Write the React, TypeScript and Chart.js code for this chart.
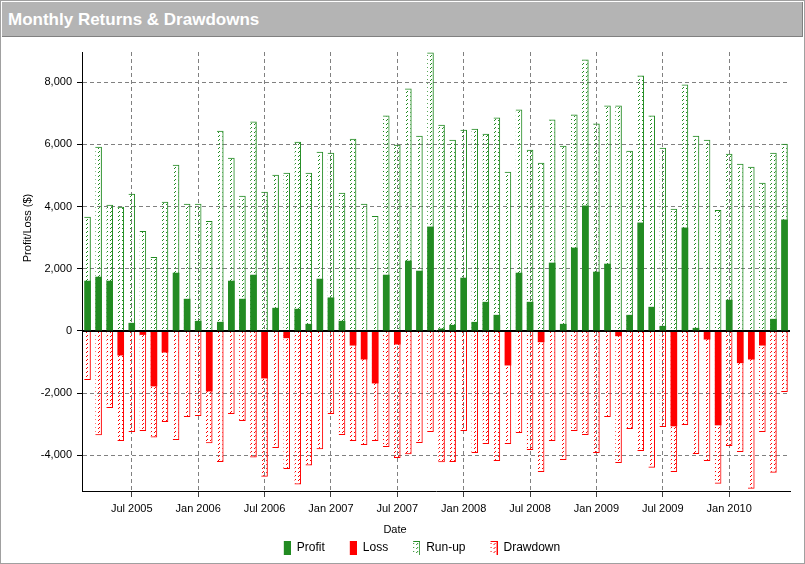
import React, { useEffect, useRef } from 'react';
import { Chart, registerables } from 'chart.js';

Chart.register(...registerables);

const categories: string[] = [
  'Mar 2005', 'Apr 2005', 'May 2005', 'Jun 2005', 'Jul 2005', 'Aug 2005', 'Sep 2005', 'Oct 2005', 'Nov 2005', 'Dec 2005',
  'Jan 2006', 'Feb 2006', 'Mar 2006', 'Apr 2006', 'May 2006', 'Jun 2006', 'Jul 2006', 'Aug 2006', 'Sep 2006', 'Oct 2006', 'Nov 2006', 'Dec 2006',
  'Jan 2007', 'Feb 2007', 'Mar 2007', 'Apr 2007', 'May 2007', 'Jun 2007', 'Jul 2007', 'Aug 2007', 'Sep 2007', 'Oct 2007', 'Nov 2007', 'Dec 2007',
  'Jan 2008', 'Feb 2008', 'Mar 2008', 'Apr 2008', 'May 2008', 'Jun 2008', 'Jul 2008', 'Aug 2008', 'Sep 2008', 'Oct 2008', 'Nov 2008', 'Dec 2008',
  'Jan 2009', 'Feb 2009', 'Mar 2009', 'Apr 2009', 'May 2009', 'Jun 2009', 'Jul 2009', 'Aug 2009', 'Sep 2009', 'Oct 2009', 'Nov 2009', 'Dec 2009',
  'Jan 2010', 'Feb 2010', 'Mar 2010', 'Apr 2010', 'May 2010', 'Jun 2010',
];

const tickLabels: string[] = [
  'Jul 2005', 'Jan 2006', 'Jul 2006', 'Jan 2007', 'Jul 2007',
  'Jan 2008', 'Jul 2008', 'Jan 2009', 'Jul 2009', 'Jan 2010',
];

const yTickValues: number[] = [-4000, -2000, 0, 2000, 4000, 6000, 8000];

const profitLoss: number[] = [
  1613, 1742, 1613, -791, 258, -128, -1786, -695, 1871, 1032,
  323, -1947, 290, 1613, 1032, 1806, -1529, 742, -235, 710, 226, 1677,
  1075, 323, -471, -920, -1690, 1806, -438, 2258, 1935, 3355, 75, 194,
  1710, 290, 935, 516, -1112, 1871, 935, -364, 2194, 226, 2677, 4032,
  1903, 2161, -171, 516, 3484, 774, 161, -3070, 3323, 97, -278, -3037,
  1000, -1037, -920, -471, 387, 3581,
];

const runUp: number[] = [
  3667, 5925, 4054, 3989, 4409, 3215, 2376, 4150, 5344, 4086,
  4086, 3538, 6441, 5570, 4344, 6731, 4473, 5022, 5086, 6086, 5086, 5763,
  5731, 4441, 6183, 4086, 3699, 6925, 5989, 7796, 6280, 8957, 6634, 6151,
  6473, 6505, 6344, 6860, 5118, 7118, 5828, 5409, 6796, 5957, 6957, 8731,
  6667, 7247, 7247, 5796, 8215, 6925, 5892, 3925, 7925, 6280, 6151, 3892,
  5699, 5376, 5280, 4763, 5731, 6022,
];

const drawdown: number[] = [
  -1583, -3358, -2481, -3540, -3251, -3219, -3433, -2930, -3508, -2770,
  -2738, -3615, -4214, -2674, -2898, -4075, -4695, -3765, -4439, -4941, -4332, -3807,
  -2674, -3348, -3540, -3668, -3540, -3733, -4086, -3968, -3604, -3251, -4225, -4214,
  -3219, -3925, -3636, -4182, -3636, -3283, -3829, -4535, -3540, -4150, -3219, -3348,
  -3925, -2770, -4246, -3155, -3861, -4406, -3091, -4535, -3027, -3957, -4182, -4920,
  -3701, -3893, -5080, -3251, -4567, -1968,
];

const legendNames = ['Profit', 'Loss', 'Run-up', 'Drawdown'];

const GREEN = '#228B22';
const RED = '#FF0000';
const FONT = '"Liberation Sans", Arial, sans-serif';
const GRID = '#808080';

function makeHatch(color: string): CanvasPattern {
  const c = document.createElement('canvas');
  c.width = 4;
  c.height = 4;
  const g = c.getContext('2d')!;
  g.fillStyle = color;
  g.fillRect(0, 3, 1, 1);
  g.fillRect(1, 2, 1, 1);
  return g.createPattern(c, 'repeat')!;
}

function makeIcon(color: string, hatch: CanvasPattern | null): HTMLCanvasElement {
  const c = document.createElement('canvas');
  c.width = 20;
  c.height = 14;
  const g = c.getContext('2d')!;
  const x0 = 13;
  const w = 7;
  if (!hatch) {
    g.fillStyle = color;
    g.fillRect(x0, 0, w, 14);
  } else {
    g.fillStyle = hatch;
    g.fillRect(x0, 1, w - 1, 13);
    g.fillStyle = color;
    g.fillRect(x0, 0, w, 1);
    g.fillRect(x0 + w - 1, 0, 1, 14);
  }
  return c;
}

const fmt = (v: number) => Math.round(v).toLocaleString('en-US');

export default function App() {
  const ref = useRef<HTMLCanvasElement | null>(null);

  useEffect(() => {
    document.body.style.margin = '0';
    const canvas = ref.current;
    if (!canvas) return;
    const greenHatch = makeHatch(GREEN);
    const redHatch = makeHatch(RED);
    const icons = [
      makeIcon(GREEN, null),
      makeIcon(RED, null),
      makeIcon(GREEN, greenHatch),
      makeIcon(RED, redHatch),
    ];
    const tickSet = new Set(tickLabels);

    const overlay = {
      id: 'overlay',
      afterDatasetsDraw(chart: any) {
        const { ctx, chartArea } = chart;
        const y0 = Math.round(chart.scales.y.getPixelForValue(0)) + 0.5;
        ctx.save();
        ctx.strokeStyle = '#000';
        ctx.lineWidth = 1;
        ctx.beginPath();
        ctx.moveTo(chartArea.left, y0);
        ctx.lineTo(chartArea.right, y0);
        ctx.stroke();
        ctx.restore();
      },
      afterDraw(chart: any) {
        const { ctx } = chart;
        ctx.save();
        ctx.font = `11px ${FONT}`;
        ctx.fillStyle = '#000';
        ctx.textAlign = 'center';
        ctx.textBaseline = 'middle';
        ctx.fillText('Date', 393, 493);
        ctx.translate(26, 191);
        ctx.rotate(-Math.PI / 2);
        ctx.fillText('Profit/Loss ($)', 0, 0);
        ctx.restore();
      },
    };

    const common = { grouped: false, barPercentage: 0.6, categoryPercentage: 1 };

    const chart = new Chart(canvas, {
      type: 'bar',
      data: {
        labels: categories,
        datasets: [
          { ...common, label: legendNames[0], data: profitLoss.map((v) => (v > 0 ? v : null)), backgroundColor: GREEN, borderWidth: 0 },
          { ...common, label: legendNames[1], data: profitLoss.map((v) => (v < 0 ? v : null)), backgroundColor: RED, borderWidth: 0 },
          {
            ...common, label: legendNames[2], data: runUp, backgroundColor: greenHatch, borderColor: GREEN,
            borderWidth: { top: 1, right: 1, bottom: 0, left: 0 }, borderSkipped: false,
          },
          {
            ...common, label: legendNames[3], data: drawdown, backgroundColor: redHatch, borderColor: RED,
            borderWidth: { top: 0, right: 1, bottom: 1, left: 0 }, borderSkipped: false,
          },
        ] as any,
      },
      options: {
        responsive: false,
        animation: false,
        events: [],
        layout: { padding: { left: 39, right: 13, top: 15, bottom: 0 } },
        plugins: {
          tooltip: { enabled: false },
          legend: {
            position: 'bottom',
            labels: {
              usePointStyle: true,
              pointStyleWidth: 20,
              padding: 12,
              color: '#000',
              font: { size: 12, family: FONT },
              generateLabels: () =>
                legendNames.map((t, i) => ({
                  text: t,
                  pointStyle: icons[i],
                  fillStyle: 'rgba(0,0,0,0)',
                  strokeStyle: 'rgba(0,0,0,0)',
                  lineWidth: 0,
                  hidden: false,
                  datasetIndex: i,
                  fontColor: '#000',
                })) as any,
            },
          },
        },
        scales: {
          x: {
            type: 'category',
            offset: true,
            grid: {
              offset: false,
              color: (c: any) => (tickSet.has(categories[c.index]) ? GRID : 'rgba(0,0,0,0)'),
              tickColor: (c: any) => (tickSet.has(categories[c.index]) ? '#404040' : 'rgba(0,0,0,0)'),
              tickLength: 6,
              lineWidth: 1,
            },
            border: { display: true, color: '#000', width: 1, dash: [4, 3] },
            ticks: {
              autoSkip: false,
              maxRotation: 0,
              minRotation: 0,
              padding: 5,
              color: '#000',
              font: { size: 11, family: FONT },
              callback: (_v: any, i: number) => (tickSet.has(categories[i]) ? categories[i] : ''),
            },
            afterFit: (s: any) => {
              s.height = 39;
            },
          },
          y: {
            min: -5150,
            max: 8970,
            afterBuildTicks: (s: any) => {
              s.ticks = yTickValues.map((v) => ({ value: v }));
            },
            grid: {
              color: (c: any) => (c.tick && c.tick.value === 0 ? '#000' : GRID),
              tickColor: '#000',
              tickLength: 5,
              lineWidth: 1,
            },
            border: {
              display: true,
              color: '#000',
              width: 1,
              dash: (c: any) => (c.tick && c.tick.value !== 0 ? [4, 3] : []),
            },
            ticks: {
              padding: 5,
              color: '#000',
              font: { size: 11, family: FONT },
              callback: (v: any) => fmt(Number(v)),
            },
            afterFit: (s: any) => {
              s.width = 41;
            },
          },
        },
      } as any,
      plugins: [overlay],
    });
    return () => chart.destroy();
  }, []);

  return (
    <div
      style={{
        width: 805,
        height: 564,
        boxSizing: 'border-box',
        border: '1px solid #a0a0a0',
        padding: 1,
        background: '#fff',
        fontFamily: FONT,
      }}
    >
      <div
        style={{
          height: 34,
          background: '#b4b4b4',
          borderBottom: '1px solid #808080',
          borderRight: '1px solid #808080',
          color: '#fff',
          fontWeight: 'bold',
          fontSize: 17,
          lineHeight: '36px',
          paddingLeft: 6,
          overflow: 'hidden',
          whiteSpace: 'nowrap',
        }}
      >
        Monthly Returns &amp; Drawdowns
      </div>
      <canvas ref={ref} width={801} height={527} style={{ display: 'block' }} />
    </div>
  );
}
